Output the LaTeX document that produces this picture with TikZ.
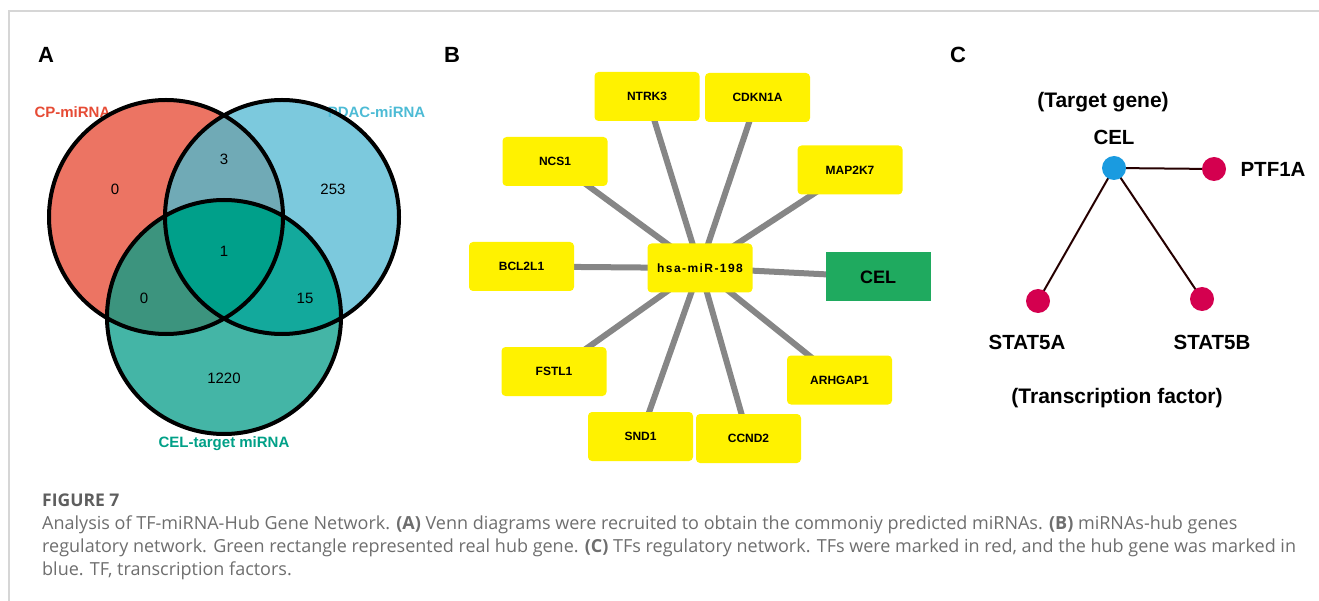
\documentclass[tikz,border=0pt]{standalone}
\usepackage{fontspec}
\setmainfont{Liberation Sans}
\newfontfamily\capfont{Open Sans}
\usetikzlibrary{positioning,backgrounds}

\definecolor{cpred}{HTML}{E64B35}
\definecolor{pdblue}{HTML}{4DBBD5}
\definecolor{celteal}{HTML}{00A087}
\definecolor{vA}{HTML}{EC7463}
\definecolor{vB}{HTML}{7CC9DD}
\definecolor{vC}{HTML}{44B5A6}
\definecolor{vAB}{HTML}{70AAB6}
\definecolor{vAC}{HTML}{3C947E}
\definecolor{vBC}{HTML}{13A99C}
\definecolor{vABC}{HTML}{00A08A}
\definecolor{hubgreen}{HTML}{1FAA5F}
\definecolor{tfred}{HTML}{D4004F}
\definecolor{tgblue}{HTML}{1A9BE0}
\definecolor{capgray}{HTML}{6E6E6E}
\definecolor{framegray}{HTML}{D6D6D6}

\tikzset{
  panel/.style={font=\fontsize{22}{22}\selectfont\bfseries},
  setlabel/.style={font=\fontsize{15}{15}\selectfont\bfseries},
  count/.style={font=\fontsize{15}{15}\selectfont},
  gene/.style={rectangle, rounded corners=4pt, fill=yellow, minimum width=105pt,
    minimum height=49pt, inner sep=0pt, font=\fontsize{12}{12}\selectfont\bfseries},
  hubgene/.style={gene, sharp corners, fill=hubgreen, font=\fontsize{18}{18}\selectfont\bfseries},
  link/.style={line width=6pt, draw=gray!95!white},
  tf/.style={circle, fill=tfred, minimum size=24pt, inner sep=0pt},
  tg/.style={tf, fill=tgblue},
  tflabel/.style={font=\fontsize{20.5}{20.5}\selectfont\bfseries},
  tie/.style={line width=2pt, draw=black!85!red},
  caption/.style={anchor=west, inner sep=0pt, text=capgray, text height=13pt, text depth=4pt,
    font=\capfont\fontsize{18}{18}\selectfont}
}

\begin{document}
\begin{tikzpicture}[x=1pt,y=-1pt,on grid]
    \useasboundingbox (0,0) rectangle (1319,601);
    \draw[framegray, line width=1.5pt] (1319,11) -- (9,11) -- (9,601);

    \node[panel] (pa) at (46,55) {A};
    \node[panel] (pb) at (452,55) {B};
    \node[panel] (pc) at (958,55) {C};

    % Venn
    \fill[vA] (166,217) circle[radius=117pt];
    \fill[vB] (282,217) circle[radius=117pt];
    \fill[vC] (224,317) circle[radius=117pt];
    \begin{scope}
      \clip (166,217) circle[radius=117pt];
      \fill[vAB] (282,217) circle[radius=117pt];
      \fill[vAC] (224,317) circle[radius=117pt];
    \end{scope}
    \begin{scope}
      \clip (282,217) circle[radius=117pt];
      \fill[vBC] (224,317) circle[radius=117pt];
    \end{scope}
    \begin{scope}
      \clip (166,217) circle[radius=117pt];
      \clip (282,217) circle[radius=117pt];
      \fill[vABC] (224,317) circle[radius=117pt];
    \end{scope}
    \node[setlabel, text=cpred] (cpset) at (72.5,112) {CP-miRNA};
    \node[setlabel, text=pdblue] (pdset) at (376.5,112) {PDAC-miRNA};
    \node[setlabel, text=celteal] (celset) at (224,444) {CEL-target miRNA};
    \draw[line width=4pt] (166,217) circle[radius=117pt] (282,217) circle[radius=117pt]
      (224,317) circle[radius=117pt];
    \node[count] (nA) at (115,189) {0};
    \node[count] (nAB) at (224,159) {3};
    \node[count] (nB) at (333,189) {253};
    \node[count] (nABC) at (224,251) {1};
    \node[count] (nAC) at (144,298) {0};
    \node[count] (nBC) at (305,298) {15};
    \node[count] (nC) at (224,378) {1220};

    % network
    \node[gene] (hub) at (700,268) {\addfontfeatures{LetterSpace=12}hsa-miR-198};
    \node[gene] (ntrk3) [above left=171.5pt and 53pt of hub] {NTRK3};
    \node[gene] (cdkn1a) [above right=170.5pt and 57.5pt of hub] {CDKN1A};
    \node[gene] (ncs1) [above left=106.5pt and 145pt of hub] {NCS1};
    \node[gene] (map2k7) [above right=98pt and 150pt of hub] {MAP2K7};
    \node[gene] (bcl2l1) [above left=1.5pt and 178.5pt of hub] {BCL2L1};
    \node[hubgene] (celbox) [below right=9pt and 178pt of hub] {CEL};
    \node[gene] (fstl1) [below left=103.5pt and 146pt of hub] {FSTL1};
    \node[gene] (arhgap1) [below right=112pt and 139.5pt of hub] {ARHGAP1};
    \node[gene] (snd1) [below left=168.5pt and 59.5pt of hub] {SND1};
    \node[gene] (ccnd2) [below right=170.5pt and 48.5pt of hub] {CCND2};
    \begin{scope}[on background layer]
      \foreach \g in {ntrk3,cdkn1a,ncs1,map2k7,bcl2l1,celbox,fstl1,arhgap1,snd1,ccnd2}
        \draw[link] (hub.center) -- (\g.center);
    \end{scope}

    % TF network
    \node[tg] (celdot) at (1114,168) {};
    \node[tf] (ptf1a) [below right=1pt and 100pt of celdot] {};
    \node[tf] (stat5a) [below left=133pt and 76pt of celdot] {};
    \node[tf] (stat5b) [below right=131pt and 88pt of celdot] {};
    \node[tflabel, font=\fontsize{21}{21}\selectfont\bfseries] (target) at (1103,102) {(Target gene)};
    \node[tflabel] (celtxt) [above=31pt of celdot] {CEL};
    \node[tflabel] (ptftxt) [right=59pt of ptf1a] {PTF1A};
    \node[tflabel] (statatxt) [below left=41pt and 11pt of stat5a] {STAT5A};
    \node[tflabel] (statbtxt) [below right=43pt and 10pt of stat5b] {STAT5B};
    \node[tflabel, font=\fontsize{21}{21}\selectfont\bfseries] (factor) at (1117,398) {(Transcription factor)};
    \begin{scope}[on background layer]
      \draw[tie] (celdot.center) -- (ptf1a.center)
        (celdot.center) -- (stat5a.center)
        (celdot.center) -- (stat5b.center);
    \end{scope}

    % caption
    \node[caption, font=\capfont\fontsize{17.5}{17.5}\selectfont\bfseries, text=capgray!85!black] (fig) at (42,502) {FIGURE 7};
    \node[caption] (cap1) at (42,525) {Analysis of TF-miRNA-Hub Gene Network. \textbf{(A)} Venn diagrams were recruited to obtain the commoniy predicted miRNAs. \textbf{(B)} miRNAs-hub genes};
    \node[caption] (cap2) at (42,548) {regulatory network. Green rectangle represented real hub gene. \textbf{(C)} TFs regulatory network. TFs were marked in red, and the hub gene was marked in};
    \node[caption] (cap3) at (42,571) {blue. TF, transcription factors.};
\end{tikzpicture}
\end{document}
